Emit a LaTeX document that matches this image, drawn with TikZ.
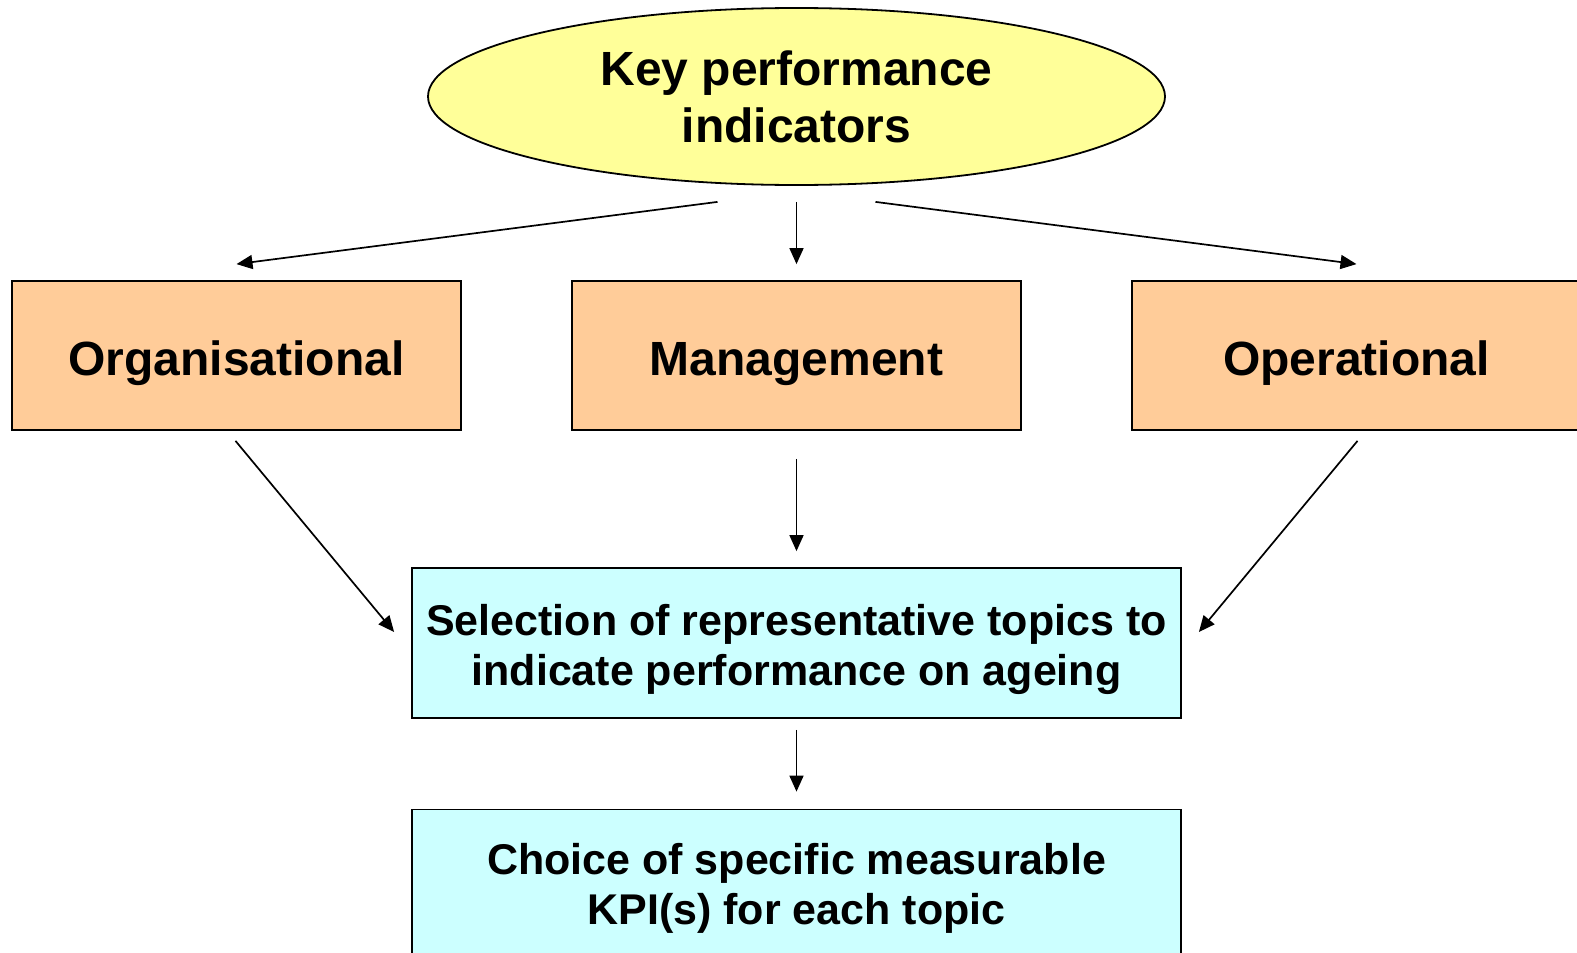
\documentclass[tikz,border=0pt]{standalone}
\usepackage{fontspec}
\setmainfont{Liberation Sans}
\usetikzlibrary{shapes.geometric,arrows.meta,calc}
\definecolor{kpiyellow}{HTML}{FFFF99}
\definecolor{boxorange}{HTML}{FFCC99}
\definecolor{boxcyan}{HTML}{CCFFFF}
\begin{document}
\begin{tikzpicture}[x=1pt,y=-1pt,
  every node/.style={font=\bfseries},
  kpishape/.style={ellipse, draw=black, line width=1.8pt, fill=kpiyellow, minimum width=737pt, minimum height=177pt, inner sep=0pt, align=center, font=\bfseries\fontsize{48}{57}\selectfont},
  catbox/.style={rectangle, draw=black, line width=1.8pt, fill=boxorange, minimum width=449pt, minimum height=149pt, inner sep=0pt, text height=45pt, text depth=6pt, font=\bfseries\fontsize{48}{57}\selectfont},
  stagebox/.style={rectangle, draw=black, line width=1.8pt, fill=boxcyan, minimum width=769pt, minimum height=150pt, inner sep=0pt},
  stagetext/.style={inner sep=0pt, align=center, font=\bfseries\fontsize{43}{50}\selectfont},
  arr/.style={line width=1.7pt, -{Triangle[length=16pt,width=14pt]}}
]
\useasboundingbox (0,0) rectangle (1577,953);
\clip (0,0) rectangle (1577,953);
\node[kpishape] (kpi) at (796.5,96.5) {Key performance\\indicators};
\node[catbox] (org) at (236.5,355.5) {Organisational};
\node[catbox] (mgmt) at (796.5,355.5) {Management};
\node[catbox] (ops) at (1356.5,355.5) {Operational};
\node[stagebox] (sel) at (796.5,643) {};
\node[stagetext] (seltext) at (796.5,649.5) {Selection of representative topics to\\indicate performance on ageing};
\node[stagebox] (choice) at (796.5,884.5) {};
\node[stagetext] (choicetext) at (796.5,888.5) {Choice of specific measurable\\KPI(s) for each topic};

\draw[arr] ($(kpi.south)+(-79,16)$) -- ($(org.north)+(0,-16)$);
\draw[arr] ($(kpi.south)+(0,16)$) -- ($(mgmt.north)+(0,-16)$);
\draw[arr] ($(kpi.south)+(79,16)$) -- ($(ops.north)+(0,-16)$);
\draw[arr] ($(org.south)+(-1,10)$) -- ($(sel.west)+(-17,-11)$);
\draw[arr] ($(mgmt.south)+(0,28)$) -- ($(sel.north)+(0,-16)$);
\draw[arr] ($(ops.south)+(1,10)$) -- ($(sel.east)+(17,-11)$);
\draw[arr] ($(sel.south)+(0,11)$) -- ($(choice.north)+(0,-17)$);
\end{tikzpicture}
\end{document}
